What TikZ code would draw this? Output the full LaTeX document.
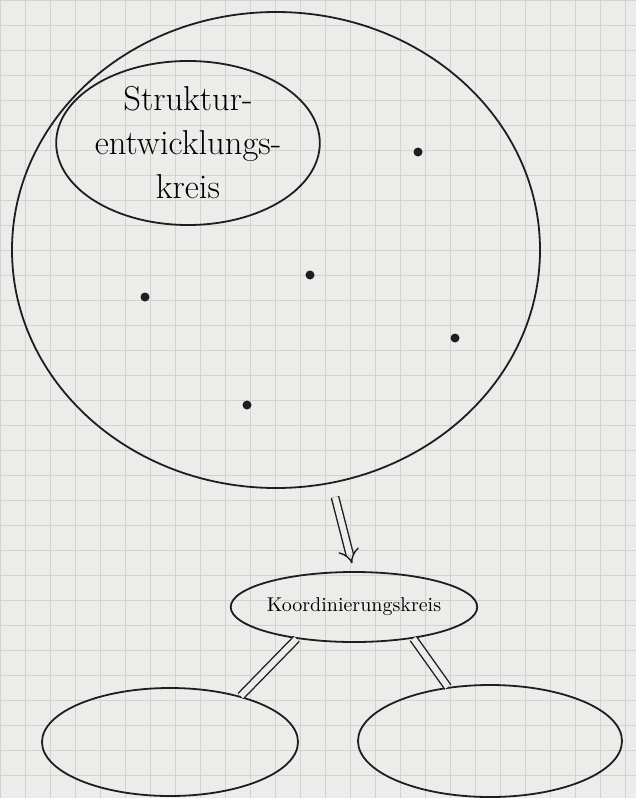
\documentclass[tikz,border=0pt]{standalone}
\usepackage{tikz}
\usetikzlibrary{shapes.geometric,arrows.meta,positioning}
\definecolor{paper}{HTML}{ECECEA}
\definecolor{gridgrey}{HTML}{D2D2D0}
\definecolor{pen}{HTML}{1E1E1E}

\begin{document}
\begin{tikzpicture}[x=0.5pt,y=-0.5pt,
circ/.style={draw=pen, ellipse, line width=0.9pt, inner sep=0pt, align=center},
dot/.style={circle, fill=pen, inner sep=0pt, minimum size=4.5pt},
link/.style={draw=pen, double=paper, double distance=3pt, line width=0.7pt},
implies/.style={draw=pen, -Implies, double=paper, double distance=3pt, line width=0.7pt}
]
\useasboundingbox (0,0) rectangle (636,798);
\fill[paper] (0,0) rectangle (636,798);
% squared paper
\foreach \gx in {0,25,...,625} \draw[gridgrey, line width=0.4pt] (\gx,0) -- (\gx,798);
\foreach \gy in {0,25,...,775} \draw[gridgrey, line width=0.4pt] (0,\gy) -- (636,\gy);

\node[circ, minimum width=264pt, minimum height=238pt] (big) at (276,250) {};
\node[circ, minimum width=118pt, minimum height=82pt, font=\LARGE] (sek) at (188,143) {Struktur-\\entwicklungs-\\kreis};

\node[dot] (d1) at (418,152) {};
\node[dot] (d2) at (310,275) {};
\node[dot] (d3) at (145,297) {};
\node[dot] (d4) at (455,338) {};
\node[dot] (d5) at (247,405) {};

\node[circ, minimum width=116pt, minimum height=35pt] (koord) at (354,607) {Koordinierungskreis};
\node[circ, minimum width=128pt, minimum height=54pt] (left) at (170,742) {};
\node[circ, minimum width=132pt, minimum height=56pt] (right) at (490,741) {};

\coordinate (arrstart) at (335,497);
\draw[implies, shorten >=4pt] (arrstart) -- (koord.north);
\draw[link] (koord.209) -- (left.33);
\draw[link] (koord.332) -- (right.128);
\end{tikzpicture}
\end{document}
